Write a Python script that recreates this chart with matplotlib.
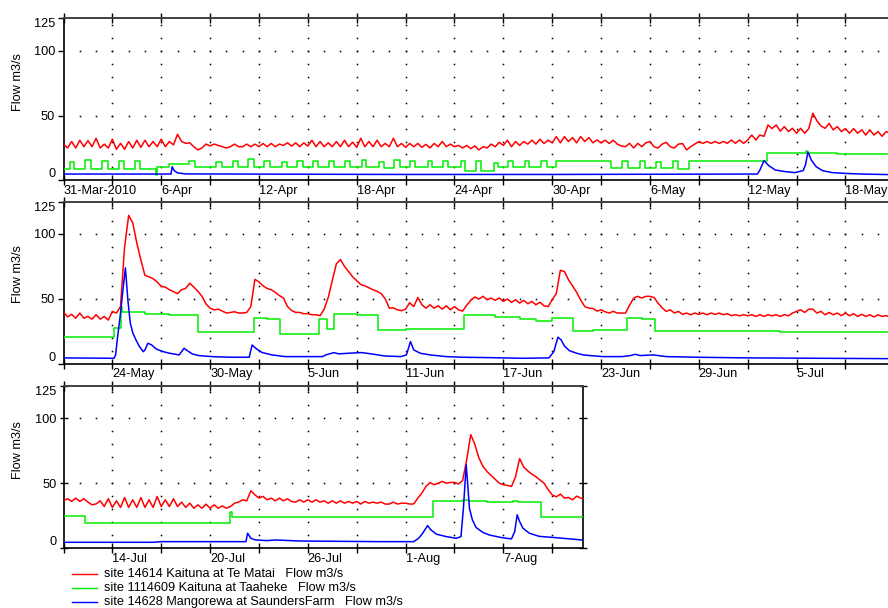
import numpy as np
import matplotlib
matplotlib.use("Agg")
import matplotlib.pyplot as plt
from matplotlib.lines import Line2D

plt.rcParams['font.family'] = ['Liberation Sans', 'DejaVu Sans']
plt.rcParams['font.size'] = 9.2

# time is in days after 31-Mar-2010 00:00

# site 14614 Kaituna at Te Matai, 6-hourly readings, one row = one day
red_apr_may = [
    28, 25, 30, 25,   31, 26, 30.7, 26,   32.5, 25, 28, 25,   31.8, 24, 28.6, 24,
    30, 25, 31, 25.5,   31, 26, 30, 26,   31.8, 26, 30, 27.4,   35.6, 30, 28.6, 29,
    26, 23.5, 25, 28,   26.6, 28, 27, 26,   25, 26, 28, 26,   26, 28, 26, 28,
    26, 28.5, 26, 28.5,   26, 28, 27, 29,   26.5, 29, 26, 29,   26.5, 31, 26, 30,
    26, 29, 26, 30,   26, 31, 26, 29.5,   25.5, 32.5, 26, 30,   26, 31, 26, 28.5,
    26, 32.5, 26, 28.5,   25.5, 28.5, 26, 28.5,   25.5, 27.8, 25, 28.5,   26, 30, 26, 28,
    26, 27, 25, 27,   24.5, 26.6, 23.5, 26,   25, 28, 26, 29.4,   27, 31, 26, 30,
    27, 30, 28, 31,   28, 31.8, 28.5, 31,   29, 33.8, 29, 33.8,   30, 33, 29, 33.8,
    30, 33, 29, 31.2,   29, 31, 28.5, 31,   28, 26.5, 26, 28.6,   25, 28.6, 26, 29,
    30, 26, 25, 28,   29.4, 26, 25, 28,   28.4, 23.5, 26, 28,   30, 28.6, 30, 28.6,
    30, 28.5, 30, 28.6,   31.2, 28.6, 31.2, 28.6,   31.2, 35, 31.2, 35,   34, 42.8, 40, 42.8,
    38, 41.5, 37.7, 40.2,   36.4, 40.2, 36.4, 40,   51.8, 46, 42, 40.2,   44, 39, 41.5, 37.7,
    40, 36.4, 40, 36.4,   39, 35, 39, 35,   37.7, 34, 37.7, 36.4,
]
red_may_jul = [
    40, 36, 38, 35,   39, 35, 36.4, 34.3,   37.7, 34.3, 36.4, 33.6,   40.3, 39, 44, 90,
    114.4, 108.7, 93, 80,   68, 67, 65.5, 63,   59.6, 59, 57, 55.5,   54, 57, 58, 62,
    59, 55.8, 51.9, 46,   42.8, 41.5, 42, 40.5,   39, 39.5, 40, 39,   39, 39.5, 44, 65,
    63, 60, 58, 57,   55, 52.5, 50.6, 44,   41, 39.5, 39.5, 38.5,   38.5, 37.7, 37.7, 37,
    42, 51, 64, 77,   80.3, 75, 71, 67,   64, 61, 60, 58.5,   57, 55.8, 54, 50,
    42.8, 43, 41.5, 40.8,   42, 47, 44, 51,   45.4, 42.8, 45.4, 42.8,   44.6, 42, 44.6, 41.5,
    44, 41.5, 40.5, 45,   48.8, 51.4, 49.8, 51.9,   49.3, 50.6, 48.8, 50.6,   48, 49.8, 47.3, 49.3,
    46.7, 48.8, 46.2, 48,   45.4, 47.3, 44.6, 44,   49.3, 54, 72, 71,   64.7, 60, 55, 49,
    44, 42.8, 42.5, 40.5,   41.5, 40, 39, 40.3,   39, 39, 39, 45,   50.5, 51.9, 50.6, 51.9,
    51.9, 51, 46.7, 43,   40.3, 41.5, 39, 40.3,   38, 39, 37.7, 39,   38, 39, 37.7, 39,
    38, 39, 37.7, 38.5,   37, 37.7, 36.9, 37.7,   36.9, 37.7, 36.4, 37.7,   36.4, 37.7, 36.9, 37.7,
    36.4, 37.7, 36.9, 39,   40.3, 41.5, 39.5, 42,   42, 39, 40.3, 37.7,   39.5, 37.7, 39, 37,
    39, 36.9, 38.5, 36.4,   38, 36.4, 37.7, 36,   37.7, 36.4, 37, 35.9,
]
red_jul_aug = [
    36.4, 38, 36, 38.5,   36, 38, 35.4, 33.3,   34, 36.4, 32, 38,   31.3, 36.4, 31.3, 39,
    31.3, 37.2, 31.3, 39,   31.3, 37.2, 31.3, 39.8,   32, 37.2, 32, 38,   32, 35.4, 31.3, 34.6,
    30.7, 33.3, 30.7, 33.8,   30.7, 33.3, 30.7, 32.5,   30.7, 32, 34.6, 35.4,   37.2, 36.4, 44.2, 41,
    38.5, 39.8, 37.2, 38.5,   36.4, 38.5, 36.4, 38,   35.9, 35.4, 37.2, 35.4,   37.2, 35.4, 37.2, 35.4,
    36.4, 34.6, 36.4, 34.6,   36.4, 34.6, 35.9, 34.6,   35.9, 33.9, 35.9, 34.6,   35.4, 34.6, 35.4, 33.9,
    33.9, 35.4, 33.9, 34.6,   34.6, 33.9, 34, 38.5,   42.4, 47.5, 50.5, 48.8,   50, 51.4, 50, 50.6,
    50.6, 49.4, 52, 68,   87.5, 80, 69.5, 63,   59, 56, 53, 50,   48.8, 48.3, 47.5, 55,
    69, 62.5, 59.5, 57,   55, 52.5, 50, 45,   41, 39.5, 41.6, 38.5,   39, 37.2, 40, 38.5,
    38,
]

# site 1114609 Kaituna at Taaheke, flow changes (day, new value)
green_days = [
    0.0, 0.37, 0.65, 1.29, 1.68, 2.38, 2.75, 3.38, 3.72, 4.36, 4.7, 5.69, 5.74,
    6.5, 7.7, 8.05, 9.37, 9.7, 10.4, 10.72, 11.3, 11.7, 12.3, 12.65, 13.4, 13.72,
    14.35, 14.7, 15.3, 15.65, 16.3, 16.6, 17.25, 17.6, 18.3, 18.6, 19.35, 19.7,
    20.3, 20.65, 21.3, 21.6, 22.4, 22.65, 23.3, 23.6, 24.4, 24.65, 25.3, 25.65,
    26.4, 26.7, 27.3, 27.6, 28.3, 28.6, 29.3, 29.7, 30.25, 33.6, 34.3, 34.65,
    35.4, 35.7, 36.4, 36.7, 37.4, 37.7, 38.4, 43.2, 45.55, 45.65, 47.5, 49.5,
    51.0, 54.13, 54.54, 54.62, 56.0, 57.5, 59.25, 62.72, 63.5, 64.26, 66.71, 67.2,
    67.6, 69.0, 70.3, 72.0, 75.6, 77.5, 79.0, 80.0, 81.0, 82.3, 83.5, 85.6, 86.5,
    87.3, 95.0,
    102.0, 103.29, 108.0, 112.23, 112.35, 118.0, 124.67, 126.5, 126.9, 128.0,
    129.6, 129.9, 131.3, 134.0,
]
green_flow = [
    8.5, 14, 8.5, 15.8, 8.5, 15.3, 8.5, 15, 8.5, 15, 8.5, 4.5, 10.5,
    12.5, 15.3, 10.5, 14.5, 10.5, 15, 10.5, 16.5, 10.5, 15.3, 10, 14.5, 10,
    14.8, 10, 15.3, 10, 15, 10, 15.3, 10, 15.8, 10, 14.5, 9.5,
    15.8, 10, 15.3, 10, 14.8, 10, 15, 10, 14.8, 7.3, 15, 7.3,
    13.5, 10, 15, 10, 15, 10, 15, 10, 15, 9.8, 15, 9.8,
    15, 9.8, 14.5, 9.8, 15, 8.6, 15, 20.8, 22.3, 20.8, 20.4, 20.0,
    20.4, 27.4, 44, 39.5, 38.5, 37.5, 24, 35, 34.6, 23, 34.3, 26.6,
    38.4, 37.7, 26, 26.6, 37.7, 36, 34.5, 33, 35, 25.5, 26, 35, 34.5,
    24.8, 24.4,
    25, 19.1, 19.5, 27.6, 24.3, 23.8, 35.9, 37, 36.5, 35.4,
    36.1, 35.4, 24.3, 24.2,
]

# site 14628 Mangorewa at SaundersFarm (day, value)
blue_days = [
    0.0, 6.6, 6.67, 6.8, 7.0, 7.5, 20.0, 30.0, 42.6, 42.75, 43.0, 43.3, 43.7,
    44.3, 44.9, 45.4, 45.55, 45.7, 45.9, 46.2, 46.6, 47.2, 48.0, 49.0, 51.0,
    54.1, 54.2, 54.3, 54.5, 54.65, 54.8, 54.95, 55.1, 55.26, 55.46, 55.67, 55.9,
    56.0, 56.18, 56.4, 56.7, 57.1, 57.5, 58.1, 58.25, 58.4, 58.6, 58.9, 59.3,
    60.1, 61.3, 62.4, 62.58, 62.8, 63.2, 63.8, 64.6, 66.9, 67.1, 67.6, 67.9,
    68.5, 69.3, 69.9, 70.7, 71.7, 72.05, 72.3, 72.5, 72.9, 73.5, 74.5, 75.5,
    77.2, 79.2, 80.8, 81.1, 81.35, 81.55, 81.75, 82.05, 82.5, 82.9, 83.5, 84.1,
    85.3, 85.8, 86.1, 86.4, 87.2, 88.0, 89.9, 93.0, 101.9,
    102.0, 107.5, 108.0, 113.2, 113.3, 113.5, 113.8, 114.5, 115.0, 116.5, 121.4,
    123.5, 123.8, 124.05, 124.35, 124.55, 124.9, 125.5, 126.1, 126.4, 126.55,
    126.72, 126.8, 126.92, 127.1, 127.33, 127.75, 128.15, 128.9, 129.5, 129.7,
    129.85, 130.0, 130.2, 130.6, 131.2, 132.2, 134.0,
]
blue_flow = [
    4.9, 4.9, 10.6, 7.5, 5.8, 5.0, 4.6, 4.6, 4.9, 8, 15.3, 11.3, 8,
    6.8, 6, 7.5, 12, 22, 15.8, 10.6, 7.5, 6, 5.4, 4.9, 4.4,
    4.1, 6.7, 18.3, 39, 57, 73.8, 49.3, 31.2, 23.5, 18, 13, 9.2,
    10.5, 15.7, 14.5, 11.2, 9.3, 8, 6.7, 9.2, 11.8, 10, 7.5, 6.2,
    5.4, 4.9, 4.9, 14.4, 11.8, 8.5, 6.7, 5.4, 5.4, 6.7, 8.5, 7.5,
    8, 8.5, 7.5, 5.9, 5.4, 6.7, 17, 10.6, 8, 6.7, 5.4, 4.9,
    4.6, 4.1, 4.4, 9.2, 20.4, 18.3, 13.6, 10, 8, 6.7, 6, 5.4,
    5.4, 6.2, 7.2, 6.2, 6.7, 5.4, 4.9, 4.4, 3.8,
    4.4, 4.4, 4.9, 4.9, 11.4, 7.5, 6.2, 5.7, 6.2, 5.4, 4.9,
    4.9, 7.5, 11.4, 17.3, 14, 10.6, 8.8, 7.5, 8.8, 30.7,
    64.3, 51.4, 30.7, 21.7, 15.8, 12, 10, 8, 7, 12.7,
    25.6, 20.4, 15.3, 11.4, 9, 8, 6,
]

panel_start = [0, 51, 102]
panel_len = [51, 51, 31.88]
label_days = [0, 6, 12, 18, 24, 30, 36, 42, 48, 54, 60, 66, 72, 78, 84, 90, 96,
              105, 111, 117, 123, 129]
label_text = ['31-Mar-2010', '6-Apr', '12-Apr', '18-Apr', '24-Apr', '30-Apr',
              '6-May', '12-May', '18-May', '24-May', '30-May', '5-Jun', '11-Jun',
              '17-Jun', '23-Jun', '29-Jun', '5-Jul', '14-Jul', '20-Jul', '26-Jul',
              '1-Aug', '7-Aug']
legend_text = ['site 14614 Kaituna at Te Matai   Flow m3/s',
               'site 1114609 Kaituna at Taaheke   Flow m3/s',
               'site 14628 Mangorewa at SaundersFarm   Flow m3/s']
colors = ['#ff0000', '#00ee00', '#0000ff']

red_flow = red_apr_may + red_may_jul + red_jul_aug
red_days = np.arange(len(red_flow)) * 0.25

W, H = 888, 608
px_day = 16.29
fig = plt.figure(figsize=(W / 100, H / 100), dpi=100)
bottoms = [608 - 180.4, 608 - 363.6, 608 - 548]
ylab_y = [0.61, 0.55, 0.605]

for i in range(3):
    t0 = panel_start[i]
    t1 = t0 + panel_len[i]
    wpx = panel_len[i] * px_day
    ax = fig.add_axes([63.5 / W, bottoms[i] / H, wpx / W, 162 / H])

    # dotted grid
    gx = np.arange(t0 + 3, t1 - 0.01, 3)
    gy = np.arange(10, 121, 10)
    X, Y = np.meshgrid(gx, gy)
    ax.plot(X.ravel(), Y.ravel(), ls='none', marker='s', ms=1.1, mew=0, color='k', zorder=1)
    hx = np.arange(t0 + 1, t1 - 0.01, 1)
    for yv in (50, 100):
        ax.plot(hx, np.full(len(hx), yv), ls='none', marker='s', ms=1.1, mew=0, color='k', zorder=1)

    ax.plot(red_days, red_flow, color=colors[0], lw=1.1, zorder=3)
    ax.step(green_days, green_flow, where='post', color=colors[1], lw=1.1, zorder=3)
    ax.plot(blue_days, blue_flow, color=colors[2], lw=1.1, zorder=4)

    ax.set_xlim(t0, t1)
    ax.set_ylim(0, 125)

    ticks = np.arange(t0, t1 - 0.01, 3)
    labs = []
    for d in ticks:
        labs.append(label_text[label_days.index(d)] if d in label_days else '')
    ax.set_xticks(ticks)
    ax.set_xticklabels(labs, ha='left')
    ax.tick_params(axis='x', direction='inout', length=7, width=1, top=True, bottom=True, pad=0)
    ax.set_yticks([0, 50, 100, 125])
    ax.set_yticklabels(['0', '50', '100', '125'])
    ax.tick_params(axis='y', direction='out', length=4, width=1, pad=2)
    yl = ax.get_yticklabels()
    yl[0].set_va('bottom')
    yl[-1].set_va('top')

    ax.set_ylabel('Flow m3/s')
    ax.yaxis.set_label_coords(-39.5 / wpx, ylab_y[i])

    ax.spines['top'].set_color('#404040')
    ax.spines['top'].set_linewidth(1.4)
    ax.spines['left'].set_linewidth(1.2)
    ax.spines['bottom'].set_linewidth(1.2)
    if i == 2:
        ax.tick_params(axis='y', right=True, direction='inout', length=6)
        ax.spines['right'].set_linewidth(1.2)
    else:
        ax.spines['right'].set_visible(False)

# legend below the last panel
for k in range(3):
    base = 577 + 14 * k
    fig.add_artist(Line2D([72 / W, 97 / W], [(H - base + 3) / H] * 2, color=colors[k], lw=1.0))
    fig.text(104 / W, (H - base) / H, legend_text[k], va='baseline', fontsize=9.2)

fig.savefig('out.png', dpi=100)
